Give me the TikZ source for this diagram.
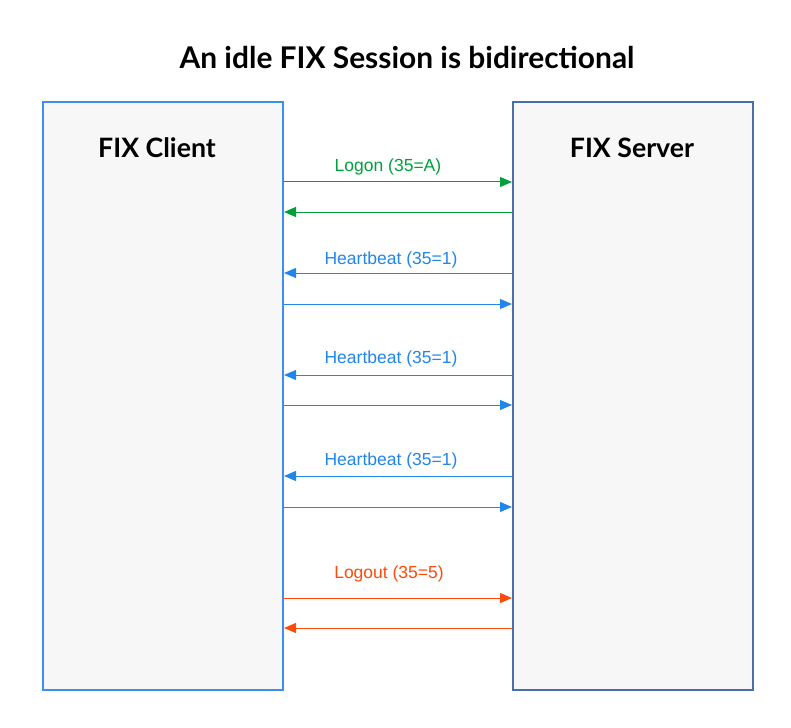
\documentclass[tikz,border=0pt]{standalone}
\usepackage{fontspec}
\setmainfont{Liberation Sans}
\newfontfamily\latofont{Lato}
\usetikzlibrary{arrows.meta}

\definecolor{clientblue}{HTML}{3D8EF0}
\definecolor{serverblue}{HTML}{4A6EA8}
\definecolor{boxfill}{HTML}{F7F7F7}
\definecolor{msggreen}{HTML}{00A13A}
\definecolor{msgblue}{HTML}{2186EA}
\definecolor{msgred}{HTML}{FF4A0A}

\tikzset{
  party/.style={draw, fill=boxfill, line width=2pt, minimum width=240pt,
    minimum height=588pt, anchor=north west, inner sep=0pt},
  partyname/.style={font=\latofont\bfseries\fontsize{26.7}{30}\selectfont},
  msg/.style={line width=1pt, -{Triangle[length=12pt,width=10pt]}},
  msglabel/.style={font=\fontsize{17.5}{20}\selectfont}
}

\begin{document}
\begin{tikzpicture}[x=1pt,y=-1pt]
\useasboundingbox (0,0) rectangle (791,727);

\node[font=\latofont\bfseries\fontsize{29.9}{34}\selectfont] (title) at (407,58) {An idle FIX Session is bidirectional};

\node[party, draw=clientblue] (client) at (42,101) {};
\node[party, draw=serverblue] (server) at (512,101) {};
\node[partyname] (clientname) at (157,148) {FIX Client};
\node[partyname] (servername) at (632,148) {FIX Server};

% logon
\draw[msg, msggreen] (client.east |- 0,182) -- (server.west |- 0,182);
\draw[msg, msggreen] (server.west |- 0,212) -- (client.east |- 0,212);
\node[msglabel, text=msggreen] (logon) at (388,167) {Logon (35=A)};

% heartbeats
\draw[msg, msgblue] (server.west |- 0,273) -- (client.east |- 0,273);
\draw[msg, msgblue] (client.east |- 0,304) -- (server.west |- 0,304);
\node[msglabel, text=msgblue] (hb1) at (391,260) {Heartbeat (35=1)};

\draw[msg, msgblue] (server.west |- 0,375) -- (client.east |- 0,375);
\draw[msg, msgblue] (client.east |- 0,405) -- (server.west |- 0,405);
\node[msglabel, text=msgblue] (hb2) at (391,359) {Heartbeat (35=1)};

\draw[msg, msgblue] (server.west |- 0,476) -- (client.east |- 0,476);
\draw[msg, msgblue] (client.east |- 0,507) -- (server.west |- 0,507);
\node[msglabel, text=msgblue] (hb3) at (391,461) {Heartbeat (35=1)};

% logout
\draw[msg, msgred] (client.east |- 0,598) -- (server.west |- 0,598);
\draw[msg, msgred] (server.west |- 0,628) -- (client.east |- 0,628);
\node[msglabel, text=msgred] (logout) at (389,574) {Logout (35=5)};
\end{tikzpicture}
\end{document}
